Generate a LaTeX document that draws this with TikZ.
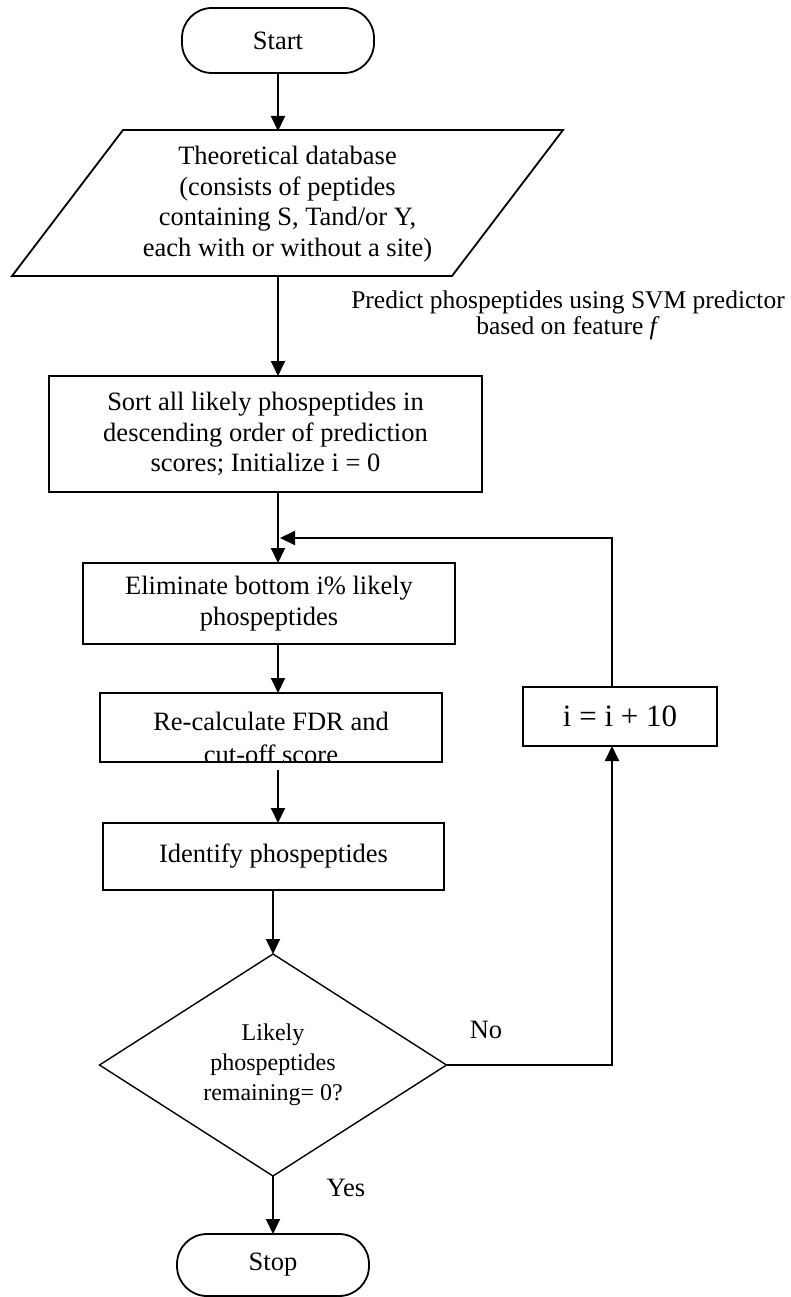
\documentclass[tikz,border=0pt]{standalone}
\usepackage{fontspec}
\setmainfont{Liberation Serif}
\usetikzlibrary{arrows.meta,shapes.geometric}
\newcommand\fsmain{\fontsize{26.5}{30.5}\selectfont}
\newcommand\fsdec{\fontsize{24}{30}\selectfont}
\newcommand\fsinc{\fontsize{31}{36}\selectfont}
\newcommand\fspred{\fontsize{25.5}{26}\selectfont}
\begin{document}
\begin{tikzpicture}[x=1pt,y=-1pt,
  every node/.style={inner sep=0pt, outer sep=0pt},
  shp/.style={draw, line width=1.8pt, align=center, font=\fsmain},
  procbox/.style={shp, rectangle},
  term/.style={shp, rectangle, rounded corners=30pt},
  decbox/.style={draw, line width=1.4pt, diamond, aspect=1.56, align=center, font=\fsdec},
  txt/.style={align=center, font=\fsmain},
  arr/.style={line width=1.9pt, -{Triangle[length=15pt,width=14pt]}},
  border/.style={line width=1.8pt}
]
\useasboundingbox (0,0) rectangle (790,1297);
\coordinate (colA) at (278,0);
\coordinate (colB) at (273,0);
\coordinate (loopx) at (612,0);
\coordinate (join) at (280,538);

\node[term, minimum width=192pt, minimum height=65pt] (start) at (278,40.5) {Start};

\coordinate (dbA) at (12,276);
\coordinate (dbB) at (452,276);
\coordinate (dbC) at (563,130);
\coordinate (dbD) at (123,130);
\draw[border] (dbA) -- (dbB) -- (dbC) -- (dbD) -- cycle;
\node[txt, minimum width=300pt, minimum height=146pt] (db) at (287.5,204)
  {Theoretical database\\(consists of peptides\\containing S, Tand/or Y,\\each with or without a site)};

\node[txt, font=\fspred] (pred) at (568,315)
  {Predict phospeptides using SVM predictor\\based on feature \textit{f}};

\node[procbox, minimum width=433pt, minimum height=116pt] (sort) at (265.5,434)
  {Sort all likely phospeptides in\\descending order of prediction\\scores; Initialize i = 0};
\node[procbox, minimum width=372pt, minimum height=81pt] (elim) at (269,603.5)
  {Eliminate bottom i\% likely\\phospeptides};

\node[procbox, minimum width=342pt, minimum height=69pt] (recalc) at (271,727.5) {};
\begin{scope}
  \clip (recalc.north west) rectangle (recalc.south east);
  \node[txt, anchor=base] (recalcA) at (271,730) {Re-calculate FDR and};
  \node[txt, anchor=base] (recalcB) at (271,763) {cut-off score};
\end{scope}

\node[procbox, minimum width=341pt, minimum height=67pt] (ident) at (273.5,856.5) {Identify phospeptides};
\node[decbox, minimum width=347pt, minimum height=222pt] (dec) at (273,1065)
  {Likely\\phospeptides\\remaining= 0?};
\node[term, minimum width=192pt, minimum height=62pt] (stop) at (273,1265) {Stop};
\node[procbox, minimum width=194pt, minimum height=59pt, font=\fsinc] (inc) at (620,716.5) {i = i + 10};

\node[txt] (no) at (486,1030) {No};
\node[txt] (yes) at (346,1188) {Yes};

\draw[arr] (start.south) -- (colA |- db.north);
\draw[arr] (colA |- db.south) -- (colA |- sort.north);
\draw[arr] (colA |- sort.south) -- (colA |- elim.north);
\draw[arr] (colA |- elim.south) -- (colA |- recalc.north);
\draw[arr, shorten <=8pt] (colA |- recalc.south) -- (colA |- ident.north);
\draw[arr] (colB |- ident.south) -- (dec.north);
\draw[arr] (dec.south) -- (colB |- stop.north);
\draw[arr] (dec.east) -| (loopx |- inc.south);
\draw[arr] (loopx |- inc.north) |- (join);
\end{tikzpicture}
\end{document}
